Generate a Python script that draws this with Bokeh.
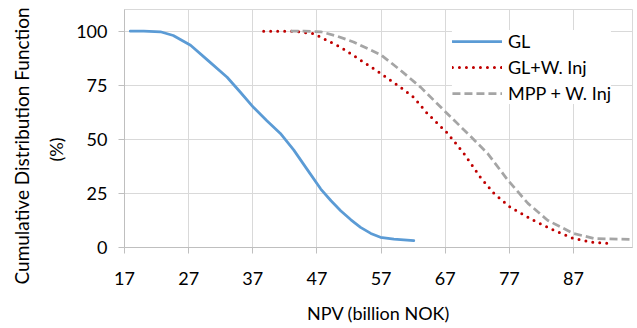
from bokeh.plotting import figure
from bokeh.models import Range1d, FixedTicker, Legend, LegendItem, Title
from bokeh.embed import file_html
from bokeh.resources import INLINE

# --- data ---
gl_x = [17.9, 20.0, 22.6, 24.6, 27.3, 30.0, 33.0, 35.0, 37.1, 39.2, 41.3, 43.4, 45.5, 47.6, 49.2, 50.7, 52.3, 53.8, 55.4, 56.9, 59.0, 62.1]
gl_y = [100, 100, 99.7, 98, 93.5, 86.5, 78.7, 72, 64.8, 58.6, 52.7, 45, 36, 27, 21.6, 17, 12.8, 9.3, 6.5, 4.7, 3.9, 3.2]

glw_x = [38.7, 42.0, 44.0, 46.5, 50.7, 53.8, 56.9, 60.0, 62.1, 64.2, 67.4, 69.9, 72.5, 74.6, 77.2, 80.8, 84.0, 87.0, 90.2, 92.5]
glw_y = [100, 100, 99.8, 98.8, 92.6, 86.6, 80.6, 74.1, 69.4, 62, 52.7, 43.5, 32.4, 25, 18.5, 12.5, 7.9, 4.2, 2.3, 1.9]

mpp_x = [42.9, 45.0, 47.6, 50.0, 52.7, 57.0, 60.0, 63.2, 66.8, 70.5, 73.6, 76.8, 79.9, 83.0, 87.0, 90.2, 95.9]
mpp_y = [100, 100, 99.7, 97.8, 95, 89, 82, 74, 63.4, 52.7, 43.5, 31, 20.4, 12.5, 6.5, 4.2, 3.7]

x_ticks = [17, 27, 37, 47, 57, 67, 77, 87]
y_ticks = [0, 25, 50, 75, 100]

FONT = "Lato"

p = figure(width=637, height=328, output_backend="svg", toolbar_location=None,
           x_range=Range1d(17, 96.2), y_range=Range1d(0, 110),
           min_border_left=124, min_border_right=5, min_border_top=9, min_border_bottom=81)

p.background_fill_color = "white"
p.border_fill_color = "white"
p.outline_line_color = "#D9D9D9"

r1 = p.line(gl_x, gl_y, line_color="#5B9BD5", line_width=2.75, line_join="round", line_cap="round")
r2 = p.line(glw_x, glw_y, line_color="#C00000", line_width=3, line_dash="0 7", line_cap="round")
r3 = p.line(mpp_x, mpp_y, line_color="#A5A5A5", line_width=2.75, line_dash="8 4")

p.xaxis.ticker = FixedTicker(ticks=x_ticks)
p.yaxis.ticker = FixedTicker(ticks=y_ticks)
p.xgrid.ticker = FixedTicker(ticks=x_ticks)
p.ygrid.ticker = FixedTicker(ticks=y_ticks)
p.grid.grid_line_color = "#D9D9D9"
p.grid.grid_line_width = 1

for ax in (p.xaxis, p.yaxis):
    ax.axis_line_color = "#BFBFBF"
    ax.major_tick_line_color = "#BFBFBF"
    ax.minor_tick_line_color = None
    ax.major_tick_in = 0
    ax.major_tick_out = 6
    ax.major_label_text_font = FONT
    ax.major_label_text_font_size = "18px"
    ax.major_label_text_color = "black"
    ax.axis_label_text_font = FONT
    ax.axis_label_text_font_size = "18px"
    ax.axis_label_text_font_style = "normal"
    ax.axis_label_text_color = "black"

p.xaxis.axis_label = "NPV (billion NOK)"
p.xaxis.major_label_standoff = 18
p.yaxis.major_label_standoff = 11
p.xaxis.axis_label_standoff = 14

# y-axis title (two lines), centred on the whole chart height like the reference
t_pct = Title(text="(%)", align="left", offset=86, standoff=14,
              text_font=FONT, text_font_size="18px", text_font_style="normal", text_color="black")
t_cdf = Title(text="Cumulative Distribution Function", align="left", offset=-37, standoff=6,
              text_font=FONT, text_font_size="19px", text_font_style="normal", text_color="black")
p.add_layout(t_pct, "left")
p.add_layout(t_cdf, "left")

legend = Legend(items=[LegendItem(label="GL", renderers=[r1]),
                       LegendItem(label="GL+W. Inj", renderers=[r2]),
                       LegendItem(label="MPP + W. Inj", renderers=[r3])],
                location="top_right")
legend.margin = 21
legend.padding = 6
legend.spacing = 4
legend.glyph_width = 50
legend.glyph_height = 20
legend.label_height = 20
legend.label_standoff = 6
legend.label_text_font = FONT
legend.label_text_font_size = "18px"
legend.label_text_color = "black"
legend.border_line_color = None
legend.background_fill_color = "white"
legend.background_fill_alpha = 1
p.add_layout(legend)

open("out.html", "w").write(file_html(p, INLINE))
